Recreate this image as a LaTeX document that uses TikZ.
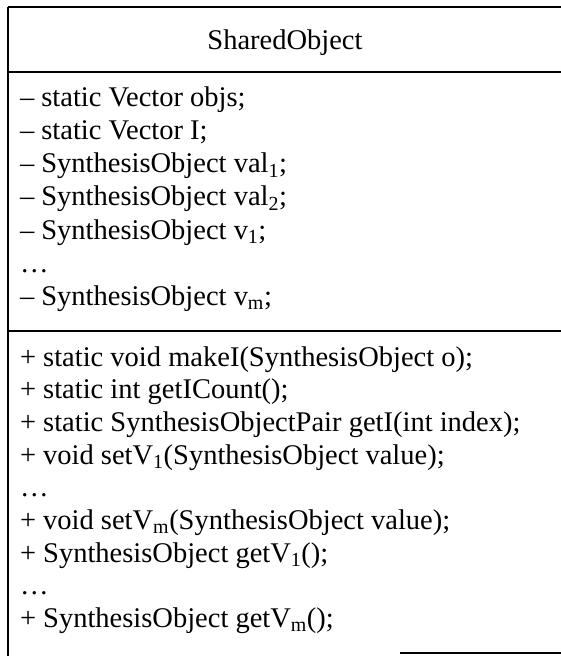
\documentclass[tikz,border=0pt]{standalone}
\usepackage{fontspec}
\setmainfont{Liberation Serif}
\begin{document}
\begin{tikzpicture}[x=1pt,y=-1pt,
  every node/.style={inner sep=0pt,outer sep=0pt,font=\fontsize{28.5}{28.5}\selectfont},
  ln/.style={anchor=base west},
  rule/.style={line width=1.8pt}]
\useasboundingbox (0,0) rectangle (561,656);
% frame
\coordinate (tl) at (8,7);
\coordinate (tr) at (561,7);
\coordinate (bl) at (8,656);
\coordinate (d1l) at (8,72);
\coordinate (d1r) at (561,72);
\coordinate (d2l) at (8,331);
\coordinate (d2r) at (561,331);
\coordinate (bbl) at (400,653);
\coordinate (bbr) at (561,653);
\draw[rule] (tl) -- (tr);
\draw[rule] (tl) -- (bl);
\draw[rule] (d1l) -- (d1r);
\draw[rule] (d2l) -- (d2r);
\draw[rule] (bbl) -- (bbr);
% title
\node[anchor=base] (title) at (285,49) {SharedObject};
% attributes
\node[ln] (a1) at (20,106) {– static Vector objs;};
\node[ln] (a2) at (20,139.3) {– static Vector I;};
\node[ln] (a3) at (20,172.6) {– SynthesisObject val\textsubscript{1};};
\node[ln] (a4) at (20,205.9) {– SynthesisObject val\textsubscript{2};};
\node[ln] (a5) at (20,239.2) {– SynthesisObject v\textsubscript{1};};
\node[ln] (a6) at (20,272.5) {…};
\node[ln] (a7) at (20,305.8) {– SynthesisObject v\textsubscript{m};};
% methods
\node[ln] (m1) at (20,366) {+ static void makeI(SynthesisObject o);};
\node[ln] (m2) at (20,398.7) {+ static int getICount();};
\node[ln] (m3) at (20,431.4) {+ static SynthesisObjectPair getI(int index);};
\node[ln] (m4) at (20,464.1) {+ void setV\textsubscript{1}(SynthesisObject value);};
\node[ln] (m5) at (20,496.8) {…};
\node[ln] (m6) at (20,529.5) {+ void setV\textsubscript{m}(SynthesisObject value);};
\node[ln] (m7) at (20,562.2) {+ SynthesisObject getV\textsubscript{1}();};
\node[ln] (m8) at (20,594.9) {…};
\node[ln] (m9) at (20,627.6) {+ SynthesisObject getV\textsubscript{m}();};
\end{tikzpicture}
\end{document}
